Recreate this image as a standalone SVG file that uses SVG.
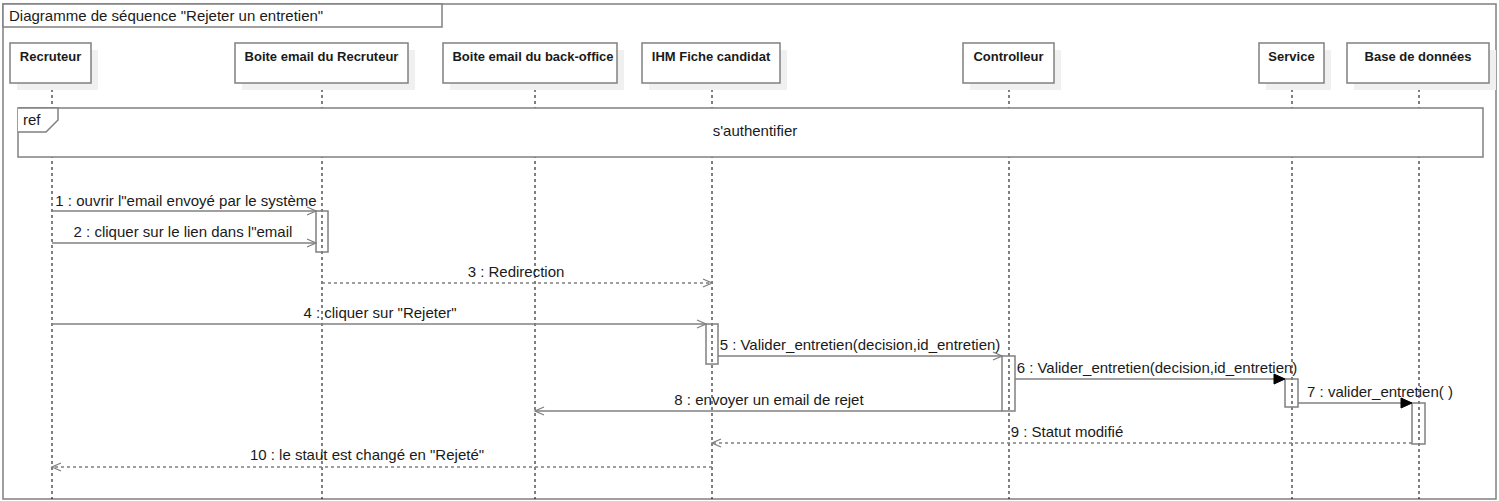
<svg xmlns="http://www.w3.org/2000/svg" width="1499" height="501" viewBox="0 0 1499 501">
<style>
.frame{fill:#fff;stroke:#808080;stroke-width:1.5}
.box{fill:#fff;stroke:#808080;stroke-width:1.5}
.shadow{fill:#f0f0f0;stroke:none}
.act{fill:none;stroke:#808080;stroke-width:1.5}
.life{stroke:#000;stroke-width:1;stroke-dasharray:3,3;fill:none}
.msg{stroke:#808080;stroke-width:1.3;fill:none}
.ret{stroke:#808080;stroke-width:1.3;fill:none;stroke-dasharray:3,3}
.t{font-family:"Liberation Sans",Arial,sans-serif;font-size:15px;fill:#1a1a1a}
.m{font-family:"Liberation Sans",Arial,sans-serif;font-size:15px;fill:#1a1a1a;text-anchor:middle}
.n{font-family:"Liberation Sans",Arial,sans-serif;font-size:13px;font-weight:bold;fill:#1a1a1a;text-anchor:middle}
</style>
<defs>
<marker id="open" markerUnits="userSpaceOnUse" markerWidth="12" markerHeight="12" viewBox="0 0 12 12" refX="10" refY="5" orient="auto">
<path d="M1,1 L10,5 L1,9" fill="none" stroke="#808080" stroke-width="1.3"/>
</marker>
<marker id="filled" markerUnits="userSpaceOnUse" markerWidth="14" markerHeight="14" viewBox="0 0 14 14" refX="12" refY="6" orient="auto">
<path d="M1,1 L12,6 L1,11 Z" fill="#000" stroke="#000" stroke-width="1"/>
</marker>
</defs>
<rect x="0" y="0" width="1499" height="501" fill="#fff"/>
<rect class="frame" x="3" y="4" width="1493" height="495"/>
<rect class="frame" x="3" y="4" width="439" height="23"/>
<text class="t" x="9" y="21">Diagramme de séquence "Rejeter un entretien"</text>

<g id="lifelines">
<line class="life" x1="52" y1="83" x2="52" y2="499"/>
<line class="life" x1="322" y1="83" x2="322" y2="499"/>
<line class="life" x1="535" y1="83" x2="535" y2="499"/>
<line class="life" x1="712" y1="83" x2="712" y2="499"/>
<line class="life" x1="1009" y1="83" x2="1009" y2="499"/>
<line class="life" x1="1292" y1="83" x2="1292" y2="499"/>
<line class="life" x1="1419" y1="83" x2="1419" y2="499"/>
</g>

<g id="node-recruteur">
<rect class="shadow" x="17" y="50" width="81" height="40"/>
<rect class="box" x="10" y="43" width="81" height="40"/>
<text class="n" x="50.5" y="61">Recruteur</text>
</g>
<g id="node-boite-recruteur">
<rect class="shadow" x="242" y="50" width="173" height="40"/>
<rect class="box" x="235" y="43" width="173" height="40"/>
<text class="n" x="321.5" y="61">Boite email du Recruteur</text>
</g>
<g id="node-boite-backoffice">
<rect class="shadow" x="450" y="50" width="174" height="40"/>
<rect class="box" x="443" y="43" width="174" height="40"/>
<text class="n" x="533" y="61">Boite email du back-office</text>
</g>
<g id="node-ihm">
<rect class="shadow" x="649" y="50" width="138" height="40"/>
<rect class="box" x="642" y="43" width="138" height="40"/>
<text class="n" x="711" y="61">IHM Fiche candidat</text>
</g>
<g id="node-controlleur">
<rect class="shadow" x="970" y="50" width="91" height="40"/>
<rect class="box" x="963" y="43" width="91" height="40"/>
<text class="n" x="1008.5" y="61">Controlleur</text>
</g>
<g id="node-service">
<rect class="shadow" x="1266" y="50" width="65" height="40"/>
<rect class="box" x="1259" y="43" width="65" height="40"/>
<text class="n" x="1291.5" y="61">Service</text>
</g>
<g id="node-bdd">
<rect class="shadow" x="1354" y="50" width="142" height="40"/>
<rect class="box" x="1347" y="43" width="142" height="40"/>
<text class="n" x="1418" y="61">Base de données</text>
</g>

<g id="ref-authentifier">
<rect class="frame" x="18" y="108" width="1465" height="49"/>
<path d="M18,108 L58,108 L58,120 L46,132 L18,132" fill="#fff" stroke="#808080" stroke-width="1.5"/>
<text class="t" x="23" y="125">ref</text>
<text class="m" x="755" y="136">s'authentifier</text>
</g>

<g id="activations">
<rect class="act" x="316" y="211" width="12" height="41"/>
<rect class="act" x="706" y="324" width="12" height="40"/>
<rect class="act" x="1002" y="356" width="13" height="55"/>
<rect class="act" x="1285" y="379" width="13" height="28"/>
<rect class="act" x="1412" y="403" width="13" height="41"/>
</g>

<g id="connectors">
<line class="msg" x1="52" y1="211" x2="316" y2="211" marker-end="url(#open)"/>
<text class="m" x="186" y="206">1 : ouvrir l"email envoyé par le système</text>
<line class="msg" x1="52" y1="243" x2="316" y2="243" marker-end="url(#open)"/>
<text class="m" x="183" y="237">2 : cliquer sur le lien dans l"email</text>
<line class="ret" x1="322" y1="283" x2="712" y2="283" marker-end="url(#open)"/>
<text class="m" x="516" y="277">3 : Redirection</text>
<line class="msg" x1="52" y1="324" x2="706" y2="324" marker-end="url(#open)"/>
<text class="m" x="380" y="318">4 : cliquer sur "Rejeter"</text>
<line class="msg" x1="718" y1="356" x2="1002" y2="356" marker-end="url(#open)"/>
<text class="m" x="860" y="350">5 : Valider_entretien(decision,id_entretien)</text>
<line class="msg" x1="1015" y1="379" x2="1285" y2="379" marker-end="url(#filled)"/>
<text class="m" x="1157" y="373">6 : Valider_entretien(decision,id_entretien)</text>
<line class="msg" x1="1298" y1="403" x2="1412" y2="403" marker-end="url(#filled)"/>
<text class="m" x="1380" y="397">7 : valider_entretien( )</text>
<line class="msg" x1="1002" y1="411" x2="535" y2="411" marker-end="url(#open)"/>
<text class="m" x="769" y="405">8 : envoyer un email de rejet</text>
<line class="ret" x1="1412" y1="443" x2="712" y2="443" marker-end="url(#open)"/>
<text class="m" x="1067" y="437">9 : Statut modifié</text>
<line class="ret" x1="712" y1="467" x2="52" y2="467" marker-end="url(#open)"/>
<text class="m" x="367" y="460">10 : le staut est changé en "Rejeté"</text>
</g>
</svg>
